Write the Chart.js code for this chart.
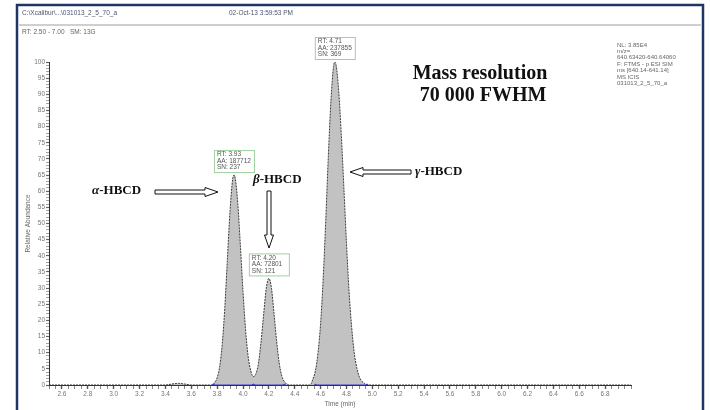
<!DOCTYPE html>
<html>
<head>
<meta charset="utf-8">
<script src="https://cdn.jsdelivr.net/npm/chart.js@4.4.1/dist/chart.umd.min.js"></script>
<style>
  html, body { margin: 0; padding: 0; background: #fff; }
  #wrap { width: 710px; height: 410px; position: relative; }
</style>
</head>
<body>
<div id="wrap"><canvas id="chrom"></canvas></div>
<script>
// chromatogram trace (time in min, relative abundance in %)
const times = [2.50, 3.40, 3.45, 3.50, 3.55, 3.60, 3.76, 3.78, 3.80, 3.82, 3.84, 3.86, 3.88, 3.90, 3.92, 3.93,
  3.94, 3.96, 3.98, 4.00, 4.02, 4.04, 4.06, 4.08, 4.10, 4.12, 4.14, 4.16, 4.18, 4.20, 4.22, 4.24, 4.26, 4.28,
  4.30, 4.32, 4.34, 4.36, 4.52, 4.54, 4.56, 4.58, 4.60, 4.62, 4.64, 4.66, 4.68, 4.70, 4.71, 4.72, 4.74, 4.76,
  4.78, 4.80, 4.82, 4.84, 4.86, 4.88, 4.90, 4.92, 4.94, 4.96, 4.98, 7.00];
const abundance = [0, 0, 0.3, 0.5, 0.3, 0, 0, 0.7, 2.2, 5.8, 12.9, 24.4, 39.5, 54, 63.7, 65,
  64, 56, 43, 29, 17, 8.8, 4.4, 2.6, 3.5, 6.8, 13.6, 22, 30, 33, 30, 22, 13.6, 6.8,
  2.8, 1, 0.3, 0, 0, 1.8, 4.4, 10, 19, 33, 51, 71, 88, 98.6, 100, 99, 91, 77.5,
  61, 44, 29, 18, 10, 5.3, 2.5, 1.1, 0.5, 0, 0, 0];

// integration baselines (start / end of each peak)
const baseStart = [3.77, 4.08, 4.56];
const baseEnd = [4.08, 4.32, 4.96];

// peak labels
const peakRT = [3.93, 4.20, 4.71];
const peakAA = [187712, 72801, 237855];
const peakSN = [237, 121, 369];
const peakHeight = [65, 33, 100];

// axis tick labels
const xTickLabels = ['2.6', '2.8', '3.0', '3.2', '3.4', '3.6', '3.8', '4.0', '4.2', '4.4', '4.6', '4.8',
  '5.0', '5.2', '5.4', '5.6', '5.8', '6.0', '6.2', '6.4', '6.6', '6.8'];
const yTickLabels = ['0', '5', '10', '15', '20', '25', '30', '35', '40', '45', '50', '55', '60', '65',
  '70', '75', '80', '85', '90', '95', '100'];

const infoLines = ['NL: 3.85E4', 'm/z=', '640.63420-640.64060', 'F: FTMS - p ESI SIM',
  'ms [640.14-641.14]', 'MS ICIS', '031013_2_5_70_a'];

const trace = times.map((t, i) => ({ x: t, y: abundance[i] }));
const baseline = [];
baseStart.forEach((s, i) => {
  baseline.push({ x: s, y: 0 }, { x: baseEnd[i], y: 0 }, { x: baseEnd[i] + 0.001, y: null });
});

const xMajor = xTickLabels.map(Number);
const yMajor = yTickLabels.map(Number);
const isMajorX = v => xMajor.some(m => Math.abs(m - v) < 1e-6);
const isMajorY = v => yMajor.includes(v);

const tinyFont = '6.5px "Liberation Sans", Arial, sans-serif';

// hollow arrow, tip at (x2,y2)
function hollowArrow(ctx, x1, y1, x2, y2) {
  const ang = Math.atan2(y2 - y1, x2 - x1);
  const len = Math.hypot(x2 - x1, y2 - y1);
  const head = 13, hw = 4.5, sw = 2;
  ctx.save();
  ctx.translate(x1, y1);
  ctx.rotate(ang);
  ctx.beginPath();
  ctx.moveTo(0, -sw);
  ctx.lineTo(len - head, -sw);
  ctx.lineTo(len - head, -hw);
  ctx.lineTo(len, 0);
  ctx.lineTo(len - head, hw);
  ctx.lineTo(len - head, sw);
  ctx.lineTo(0, sw);
  ctx.closePath();
  ctx.fillStyle = '#fff';
  ctx.fill();
  ctx.strokeStyle = '#111';
  ctx.lineWidth = 1;
  ctx.stroke();
  ctx.restore();
}

function hbcdLabel(ctx, greek, x, y) {
  ctx.save();
  ctx.textBaseline = 'middle';
  ctx.textAlign = 'left';
  ctx.fillStyle = '#111';
  ctx.font = 'italic bold 13px "Liberation Serif", "Times New Roman", serif';
  ctx.fillText(greek, x, y);
  const w = ctx.measureText(greek).width;
  ctx.font = 'bold 13px "Liberation Serif", "Times New Roman", serif';
  ctx.fillText('-HBCD', x + w, y);
  ctx.restore();
}

const decor = {
  id: 'decor',
  beforeDraw(chart) {
    const ctx = chart.ctx;
    ctx.save();
    ctx.fillStyle = '#fff';
    ctx.fillRect(0, 0, chart.width, chart.height);
    ctx.restore();
  },
  afterDraw(chart) {
    const ctx = chart.ctx;
    const xs = chart.scales.x, ys = chart.scales.y;
    ctx.save();

    // frame
    ctx.strokeStyle = '#1f3566';
    ctx.lineWidth = 2.5;
    ctx.strokeRect(17, 5, 686, 420);
    ctx.strokeStyle = '#cfcfcf';
    ctx.lineWidth = 2;
    ctx.beginPath();
    ctx.moveTo(18, 25);
    ctx.lineTo(702, 25);
    ctx.stroke();

    // header
    ctx.font = tinyFont;
    ctx.fillStyle = '#4a5570';
    ctx.textBaseline = 'middle';
    ctx.textAlign = 'left';
    ctx.fillText('C:\\Xcalibur\\...\\031013_2_5_70_a', 22, 13);
    ctx.fillText('02-Oct-13 3:59:53 PM', 229, 13);
    ctx.fillStyle = '#666';
    ctx.fillText('RT: 2.50 - 7.00   SM: 13G', 22, 32);

    // info block
    ctx.font = '6px "Liberation Sans", Arial, sans-serif';
    infoLines.forEach((s, i) => ctx.fillText(s, 617, 45 + i * 6.4));

    // peak label boxes
    peakRT.forEach((rt, i) => {
      const cx = xs.getPixelForValue(rt);
      const top = ys.getPixelForValue(peakHeight[i]);
      const bw = 40, bh = 22;
      const bx = cx - bw / 2, by = top - 3 - bh;
      ctx.fillStyle = '#fff';
      ctx.fillRect(bx, by, bw, bh);
      ctx.strokeStyle = '#9fd19f';
      ctx.lineWidth = 1;
      ctx.strokeRect(bx + 0.5, by + 0.5, bw, bh);
      ctx.fillStyle = '#555';
      ctx.font = tinyFont;
      ctx.fillText('RT: ' + rt.toFixed(2), bx + 3, by + 4.5);
      ctx.fillText('AA: ' + peakAA[i], bx + 3, by + 11);
      ctx.fillText('SN: ' + peakSN[i], bx + 3, by + 17.5);
    });

    // compound annotations
    hbcdLabel(ctx, 'α', 92, 191);
    hollowArrow(ctx, 155, 192, 218, 192);
    hbcdLabel(ctx, 'β', 253, 180);
    hollowArrow(ctx, 269, 191, 269, 248);
    hbcdLabel(ctx, 'γ', 415, 172);
    hollowArrow(ctx, 411, 172, 350, 172);

    ctx.fillStyle = '#111';
    ctx.textAlign = 'center';
    ctx.font = 'bold 20px "Liberation Serif", "Times New Roman", serif';
    ctx.fillText('Mass resolution', 480, 74);
    ctx.fillText('70 000 FWHM', 483, 96);

    ctx.restore();
  }
};

new Chart(document.getElementById('chrom'), {
  type: 'line',
  data: {
    datasets: [
      {
        data: trace,
        borderColor: '#3c3c3c',
        borderWidth: 1,
        borderDash: [2, 1],
        backgroundColor: '#c2c2c2',
        fill: 'origin',
        pointRadius: 0,
        cubicInterpolationMode: 'monotone',
        order: 2
      },
      {
        data: baseline,
        borderColor: '#3b3bd6',
        borderWidth: 1.2,
        pointRadius: 1.3,
        pointBackgroundColor: '#3b3bd6',
        pointBorderWidth: 0,
        spanGaps: false,
        fill: false,
        order: 1
      }
    ]
  },
  options: {
    responsive: true,
    maintainAspectRatio: false,
    animation: false,
    layout: { padding: { left: 20, top: 62, right: 79, bottom: 0 } },
    plugins: {
      legend: { display: false },
      tooltip: { enabled: false }
    },
    scales: {
      x: {
        type: 'linear',
        min: 2.5,
        max: 7.0,
        offset: false,
        afterBuildTicks: s => {
          const t = [];
          for (let i = 0; i <= 90; i++) t.push({ value: Math.round((2.5 + i * 0.05) * 100) / 100 });
          s.ticks = t;
        },
        afterFit: s => { s.height = 25; },
        grid: {
          drawOnChartArea: false,
          drawTicks: true,
          tickLength: 4,
          tickColor: '#555',
          tickWidth: c => (c.tick && isMajorX(c.tick.value) ? 1.4 : 0.7)
        },
        border: { display: true, color: '#333', width: 1 },
        ticks: {
          autoSkip: false,
          maxRotation: 0,
          padding: 1,
          color: '#777',
          font: { size: 6.5, family: '"Liberation Sans", Arial, sans-serif' },
          callback: v => (isMajorX(v) ? xTickLabels[xMajor.findIndex(m => Math.abs(m - v) < 1e-6)] : '')
        },
        title: {
          display: true,
          text: 'Time (min)',
          color: '#666',
          padding: { top: 0, bottom: 2 },
          font: { size: 6.5, family: '"Liberation Sans", Arial, sans-serif' }
        }
      },
      y: {
        min: 0,
        max: 100,
        afterBuildTicks: s => {
          const t = [];
          for (let i = 0; i <= 100; i++) t.push({ value: i });
          s.ticks = t;
        },
        afterFit: s => { s.width = 29; },
        grid: {
          drawOnChartArea: false,
          drawTicks: true,
          tickLength: 3,
          tickColor: '#666',
          tickWidth: c => (c.tick && isMajorY(c.tick.value) ? 1.2 : 0.6)
        },
        border: { display: true, color: '#333', width: 1 },
        ticks: {
          autoSkip: false,
          padding: 1,
          color: '#777',
          font: { size: 6.5, family: '"Liberation Sans", Arial, sans-serif' },
          callback: v => (isMajorY(v) ? yTickLabels[yMajor.indexOf(v)] : '')
        },
        title: {
          display: true,
          text: 'Relative Abundance',
          color: '#666',
          padding: { top: 4, bottom: 0 },
          font: { size: 6.5, family: '"Liberation Sans", Arial, sans-serif' }
        }
      }
    }
  },
  plugins: [decor]
});
</script>
</body>
</html>
